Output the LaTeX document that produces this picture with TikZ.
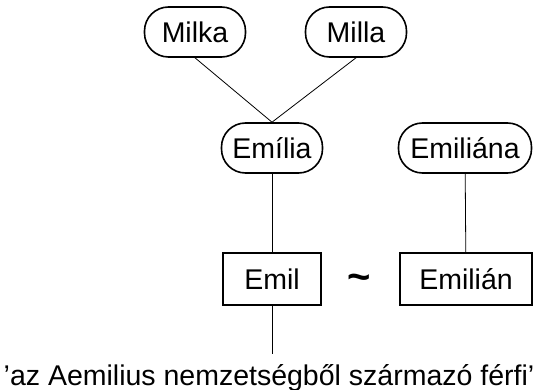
\documentclass[tikz,border=0pt]{standalone}
\usepackage{fontspec}
\setmainfont{Liberation Sans}
\usepackage{tikz}
\usetikzlibrary{positioning,calc}

\begin{document}
\begin{tikzpicture}[
    x=1pt, y=-1pt,
    namebox/.style={rectangle, draw=black, line width=1.6pt, rounded corners=24pt, minimum height=50pt, inner sep=0pt, font=\fontsize{28.5}{32}\selectfont},
    wordbox/.style={rectangle, draw=black, line width=1.4pt, minimum height=52pt, inner sep=0pt, font=\fontsize{28.5}{32}\selectfont},
    link/.style={line width=0.8pt}
]
    \useasboundingbox (0,0) rectangle (537,390);
    \node[namebox, minimum width=101pt] (emilia) at (272,148) {Emília};
    \node[namebox, minimum width=101pt] (milka) at (195,32) {Milka};
    \node[namebox, minimum width=101pt] (milla) at (356,32) {Milla};
    \node[namebox, minimum width=133pt] (emiliana) at (465,148) {Emiliána};
    \node[wordbox, minimum width=98pt, line width=2.6pt] (emil) at (272,279) {Emil};
    \node[wordbox, minimum width=132pt] (emilian) at (466,279) {Emilián};
    \node[anchor=base, inner sep=0pt, font=\fontsize{40}{40}\selectfont\bfseries] (tilde) at (359,290) {\char"007E};
    \coordinate (end) at (272,354);
    \node[anchor=base, font=\fontsize{28.5}{32}\selectfont, inner sep=0pt] (meaning) at (269,385) {’az Aemilius nemzetségből származó férfi’};

    \draw[link] (milka.south) -- (emilia.north);
    \draw[link] (milla.south) -- (emilia.north);
    \draw[link] (emilia) -- (emil);
    \draw[link] (emiliana) -- (emilian);
    \draw[link] (emil) -- (end);
\end{tikzpicture}
\end{document}
